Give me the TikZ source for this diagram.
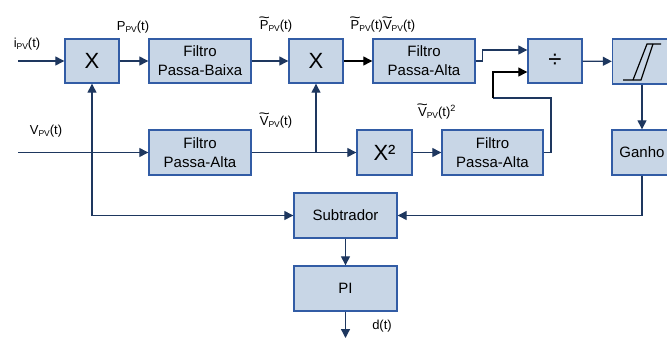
\documentclass[tikz,border=0pt]{standalone}
\usepackage{fontspec}
\usepackage{graphicx}
\setmainfont{Liberation Sans}
\usetikzlibrary{arrows.meta}
\definecolor{boxfill}{RGB}{200,214,230}
\definecolor{boxline}{RGB}{50,92,165}
\definecolor{wire}{RGB}{30,55,95}
\newcommand{\pvsub}{\raisebox{-0.35ex}{\fontsize{8.5}{8.5}\selectfont PV}}
\newcommand{\tld}[1]{{\ooalign{#1\cr\hidewidth\raisebox{0.5em}{\scalebox{1.5}[1.1]{\textasciitilde}}\hidewidth\cr}}}
\begin{document}
\begin{tikzpicture}[x=1pt,y=1pt]
	\tikzstyle{block}=[draw=boxline,fill=boxfill,line width=1.4pt,inner sep=0pt,align=center,font=\fontsize{15}{19}\selectfont]
	\tikzstyle{flow}=[draw=wire,line width=1.3pt,-{Triangle[length=9pt,width=9pt]}]
	\tikzstyle{flowk}=[draw=black,line width=1.3pt,-{Triangle[length=9pt,width=9pt]}]
	\tikzstyle{sig}=[inner sep=0pt,font=\fontsize{13}{13}\selectfont]
	\useasboundingbox (0,0) rectangle (667,-338);
	\node [block,minimum width=54,minimum height=44,font=\fontsize{22}{22}\selectfont] (mul1) at (92,-61) {X};
	\node [block,minimum width=102,minimum height=44] (lpf) at (200,-61) {Filtro\\Passa-Baixa};
	\node [block,minimum width=54,minimum height=44,font=\fontsize{22}{22}\selectfont] (mul2) at (316,-61) {X};
	\node [block,minimum width=102,minimum height=44] (hpf1) at (424,-61) {Filtro\\Passa-Alta};
	\node [block,minimum width=54,minimum height=44,font=\fontsize{24}{24}\selectfont] (div) at (555,-61) {÷};
	\node [block,minimum width=59,minimum height=45] (hyst) at (642,-61.5) {};
	\node [block,minimum width=60,minimum height=45] (ganho) at (642,-152.5) {Ganho};
	\node [block,minimum width=102,minimum height=45] (hpf2) at (200,-152.5) {Filtro\\Passa-Alta};
	\node [block,minimum width=55,minimum height=45,font=\fontsize{22}{22}\selectfont] (sq) at (384.5,-152.5) {X²};
	\node [block,minimum width=101,minimum height=45] (hpf3) at (492.5,-152.5) {Filtro\\Passa-Alta};
	\node [block,minimum width=103,minimum height=45] (sub) at (345.5,-215.5) {Subtrador};
	\node [block,minimum width=103,minimum height=45] (pi) at (345.5,-288.5) {PI};
	\draw [line width=1.2pt] ([shift={(-19,-18.5)}]hyst.center) -- ([shift={(-1,-18.5)}]hyst.center) -- ([shift={(11,17.5)}]hyst.center);
	\draw [line width=1.2pt] ([shift={(-9,-18.5)}]hyst.center) -- ([shift={(5,17.5)}]hyst.center) -- ([shift={(19,17.5)}]hyst.center);
	\node [sig] (lbli) at (27,-44) {i\pvsub(t)};
	\node [sig] (lblp) at (133,-27) {P\pvsub(t)};
	\node [sig] (lblpf) at (276,-26) {\tld{P}\pvsub(t)};
	\node [sig] (lblpv) at (383,-26) {\tld{P}\pvsub(t)\tld{V}\pvsub(t)};
	\node [sig] (lblv) at (46,-131) {V\pvsub(t)};
	\node [sig] (lblvf) at (276,-122) {\tld{V}\pvsub(t)};
	\node [sig] (lblv2) at (437,-112) {\tld{V}\pvsub(t)\textsuperscript{2}};
	\node [sig] (lbld) at (382,-326) {d(t)};
	\coordinate (iin) at (18,-61);
	\coordinate (vin) at (18,-152.5);
	\coordinate (crn) at (mul1 |- sub);
	\coordinate (tap) at (mul2 |- hpf2);
	\coordinate (fbr) at (551,-98);
	\coordinate (fbl) at (493,-98);
	\coordinate (dout) at (345.5,-338);
	\draw [flow] (iin) -- (mul1);
	\draw [flow] (mul1) -- (lpf);
	\draw [flow] (lpf) -- (mul2);
	\draw [flowk] (mul2) -- (hpf1);
	\draw [flow] (hpf1.east) -- ++(7,0) |- ([yshift=11pt]div.west);
	\draw [draw=wire,line width=1.3pt] (hpf3.east) -| (fbr) -- (fbl);
	\draw [flowk] (fbl) |- ([yshift=-11pt]div.west);
	\draw [flow] (div) -- (hyst);
	\draw [flow] (hyst) -- (ganho);
	\draw [flow] (ganho.south) |- (sub.east);
	\draw [flow] (vin) -- (hpf2);
	\draw [flow] (hpf2) -- (sq);
	\draw [flow] (tap) -- (mul2.south);
	\draw [flow] (sq) -- (hpf3);
	\draw [flow] (crn) -- (mul1.south);
	\draw [flow] (crn) -- (sub.west);
	\draw [flow] (sub) -- (pi);
	\draw [flow] (pi) -- (dout);
\end{tikzpicture}
\end{document}
